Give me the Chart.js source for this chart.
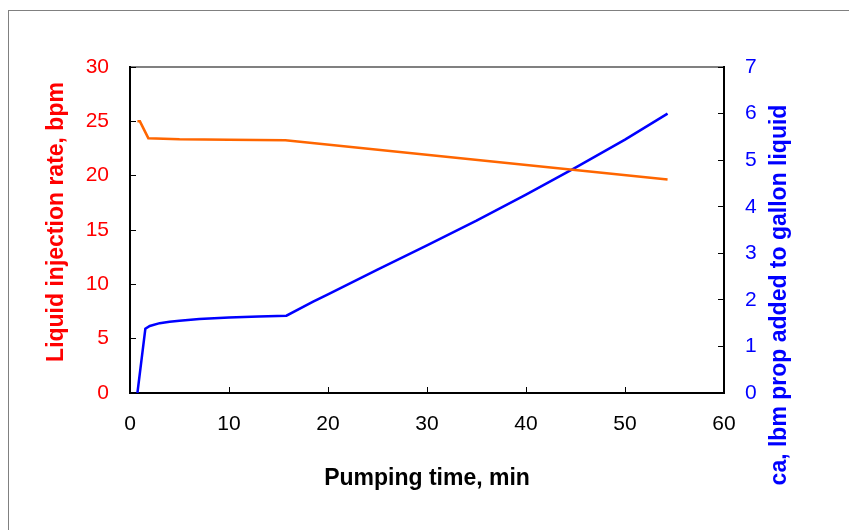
<!DOCTYPE html>
<html>
<head>
<meta charset="utf-8">
<script src="https://cdn.jsdelivr.net/npm/chart.js@4"></script>
<style>
  body { margin: 0; background: #fff; }
  canvas { display: block; }
</style>
</head>
<body>
<canvas id="pumpChart" width="849" height="530"></canvas>
<script>
// injection rate (left axis), bpm
const rateTimes = [0.75, 1.0, 1.85, 5, 10, 15.7, 54.3];
const rateValues = [25, 25, 23.45, 23.35, 23.3, 23.25, 19.65];

// prop concentration (right axis), lbm/gal
const concTimes = [0.75, 1.55, 2, 3, 4, 5, 7, 10, 13, 15.8, 18.5, 20, 25, 30, 35, 40, 45, 50, 54.3];
const concValues = [0, 1.38, 1.44, 1.5, 1.53, 1.55, 1.59, 1.62, 1.64, 1.66, 1.96, 2.12, 2.65, 3.17, 3.70, 4.26, 4.84, 5.44, 6.0];

const xTicks = [0, 10, 20, 30, 40, 50, 60];

const FONT = '"Liberation Sans", Arial, sans-serif';

// frame round the whole figure + top edge of plot area + the two y titles
const framePlugin = {
    id: 'frame',
    beforeDraw(chart) {
        const ctx = chart.ctx;
        ctx.save();
        ctx.fillStyle = '#fff';
        ctx.fillRect(0, 0, chart.width, chart.height);
        ctx.strokeStyle = '#808080';
        ctx.lineWidth = 1;
        ctx.strokeRect(8.5, 10.5, 900, 600);
        const a = chart.chartArea;
        ctx.lineWidth = 2;
        ctx.beginPath();
        ctx.moveTo(a.left, a.top);
        ctx.lineTo(a.right, a.top);
        ctx.stroke();
        ctx.restore();
    },
    afterDraw(chart) {
        const ctx = chart.ctx;
        const drawTitle = (text, color, x, y) => {
            ctx.save();
            ctx.translate(x, y);
            ctx.rotate(-Math.PI / 2);
            ctx.font = 'bold 23px ' + FONT;
            ctx.fillStyle = color;
            ctx.textAlign = 'center';
            ctx.textBaseline = 'middle';
            ctx.fillText(text, 0, 0);
            ctx.restore();
        };
        drawTitle('Liquid injection rate, bpm', '#ff0000', 57, 222);
        drawTitle('ca, lbm prop added to gallon liquid', '#0000ff', 780, 295);
    }
};

const ctx = document.getElementById('pumpChart').getContext('2d');
new Chart(ctx, {
    type: 'line',
    data: {
        datasets: [
            {
                label: 'Liquid injection rate',
                data: rateTimes.map((t, i) => ({ x: t, y: rateValues[i] })),
                borderColor: '#ff6600',
                borderWidth: 2.5,
                pointRadius: 0,
                tension: 0,
                yAxisID: 'y'
            },
            {
                label: 'Prop concentration',
                data: concTimes.map((t, i) => ({ x: t, y: concValues[i] })),
                borderColor: '#0000ff',
                borderWidth: 2.5,
                pointRadius: 0,
                tension: 0,
                yAxisID: 'y2'
            }
        ]
    },
    options: {
        responsive: false,
        animation: false,
        layout: { padding: { top: 67, left: 0, right: 0, bottom: 0 } },
        plugins: {
            legend: { display: false },
            tooltip: { enabled: false }
        },
        scales: {
            x: {
                type: 'linear',
                min: 0,
                max: 60,
                afterBuildTicks: scale => { scale.ticks = xTicks.map(v => ({ value: v })); },
                afterFit: scale => { scale.height = 137; },
                border: { color: '#000', width: 2 },
                grid: { drawOnChartArea: false, tickLength: -6, tickColor: '#000' },
                ticks: { color: '#000', padding: 25, maxRotation: 0, font: { family: FONT, size: 21 } },
                title: {
                    display: true,
                    text: 'Pumping time, min',
                    color: '#000',
                    font: { family: FONT, size: 23, weight: 'bold' },
                    padding: { top: 0, bottom: 38 }
                }
            },
            y: {
                position: 'left',
                min: 0,
                max: 30,
                ticks: { stepSize: 5, color: '#ff0000', padding: 27, font: { family: FONT, size: 21 } },
                afterFit: scale => { scale.width = 130; },
                border: { color: '#000', width: 2 },
                grid: { drawOnChartArea: false, tickLength: -6, tickColor: '#000' }
            },
            y2: {
                position: 'right',
                min: 0,
                max: 7,
                ticks: { stepSize: 1, color: '#0000ff', padding: 27, font: { family: FONT, size: 21 } },
                afterFit: scale => { scale.width = 125; },
                border: { color: '#000', width: 2 },
                grid: { drawOnChartArea: false, tickLength: -6, tickColor: '#000' }
            }
        }
    },
    plugins: [framePlugin]
});
</script>
</body>
</html>
